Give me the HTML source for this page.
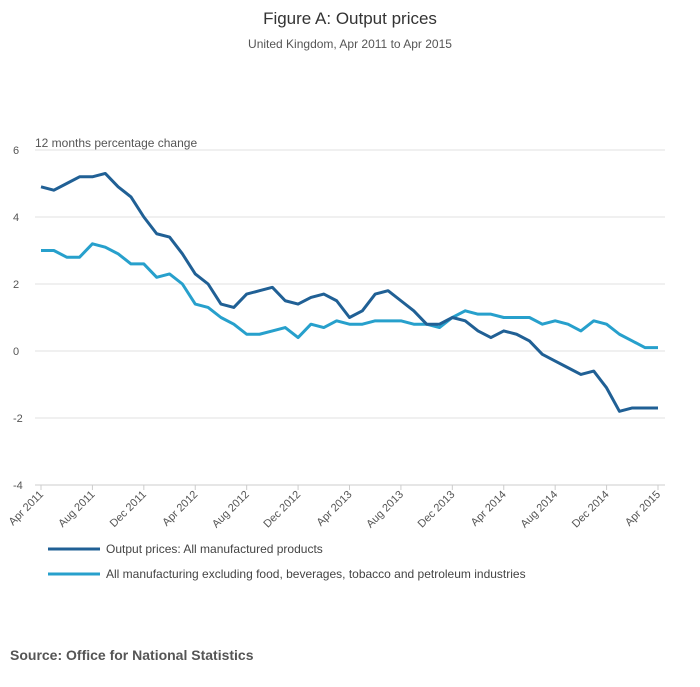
<!DOCTYPE html>
<html><head><meta charset="utf-8"><style>
body{margin:0;background:#fff;font-family:"Liberation Sans",sans-serif;}
svg text{font-family:"Liberation Sans",sans-serif;}
</style></head><body>
<svg id="chart" width="700" height="682" viewBox="0 0 700 682">
<text x="350" y="24" text-anchor="middle" font-size="17" fill="#333">Figure A: Output prices</text>
<text x="350" y="48" text-anchor="middle" font-size="12" fill="#555">United Kingdom, Apr 2011 to Apr 2015</text>
<text x="35" y="147" font-size="12" fill="#555">12 months percentage change</text>
<g id="grid"></g><g id="xaxis"></g><g id="series"></g>
<line x1="48" y1="549" x2="100" y2="549" stroke="#206095" stroke-width="3"/>
<text x="106" y="553" font-size="12" fill="#444">Output prices: All manufactured products</text>
<line x1="48" y1="574" x2="100" y2="574" stroke="#27a0cc" stroke-width="3"/>
<text x="106" y="578" font-size="12" fill="#444">All manufacturing excluding food, beverages, tobacco and petroleum industries</text>
<text x="10" y="660" font-size="14" font-weight="bold" fill="#555">Source: Office for National Statistics</text>
</svg>
<script>
const yTicks=[6,4,2,0,-2,-4];
const xTickLabels=["Apr 2011","Aug 2011","Dec 2011","Apr 2012","Aug 2012","Dec 2012","Apr 2013","Aug 2013","Dec 2013","Apr 2014","Aug 2014","Dec 2014","Apr 2015"];
const outputPrices=[4.9,4.8,5.0,5.2,5.2,5.3,4.9,4.6,4.0,3.5,3.4,2.9,2.3,2.0,1.4,1.3,1.7,1.8,1.9,1.5,1.4,1.6,1.7,1.5,1.0,1.2,1.7,1.8,1.5,1.2,0.8,0.8,1.0,0.9,0.6,0.4,0.6,0.5,0.3,-0.1,-0.3,-0.5,-0.7,-0.6,-1.1,-1.8,-1.7,-1.7,-1.7];
const exclFood=[3.0,3.0,2.8,2.8,3.2,3.1,2.9,2.6,2.6,2.2,2.3,2.0,1.4,1.3,1.0,0.8,0.5,0.5,0.6,0.7,0.4,0.8,0.7,0.9,0.8,0.8,0.9,0.9,0.9,0.8,0.8,0.7,1.0,1.2,1.1,1.1,1.0,1.0,1.0,0.8,0.9,0.8,0.6,0.9,0.8,0.5,0.3,0.1,0.1];
const NS="http://www.w3.org/2000/svg";
const x0=41,x1=658,y6=150,yM4=485;
const n=outputPrices.length;
function xs(i){return x0+(x1-x0)*i/(n-1);}
function ys(v){return y6+(6-v)*(yM4-y6)/10;}
function mk(t,a,p){const e=document.createElementNS(NS,t);for(const k in a)e.setAttribute(k,a[k]);p.appendChild(e);return e;}
const grid=document.getElementById('grid');
yTicks.forEach(v=>{
 const l=mk('line',{x1:35,x2:665,y1:ys(v),y2:ys(v),stroke:v===-4?'#ccc':'#e2e2e2','stroke-width':1},grid);
 
 
 const t=mk('text',{x:13,y:ys(v)+4,'font-size':11,fill:'#555'},grid);
 t.textContent=v;
 
 
});
const xa=document.getElementById('xaxis');
xTickLabels.forEach((lab,k)=>{
 const x=xs(k*4);
 const tk=mk('line',{x1:x,x2:x,y1:485,y2:490,stroke:'#ccc'},xa);
 
 
 const t=mk('text',{x:x+3,y:495,'font-size':11,fill:'#555','text-anchor':'end',transform:`rotate(-45 ${x+3} 495)`},xa);
 t.textContent=lab;
 
 
});
const sg=document.getElementById('series');
[[exclFood,'#27a0cc','line-excl-food'],[outputPrices,'#206095','line-output-prices']].forEach(([d,c,nm])=>{
 const p=mk('polyline',{points:d.map((v,i)=>xs(i)+','+ys(v)).join(' '),fill:'none',stroke:c,'stroke-width':3,'stroke-linejoin':'round'},sg);
 
 
});
</script>
</body></html>
